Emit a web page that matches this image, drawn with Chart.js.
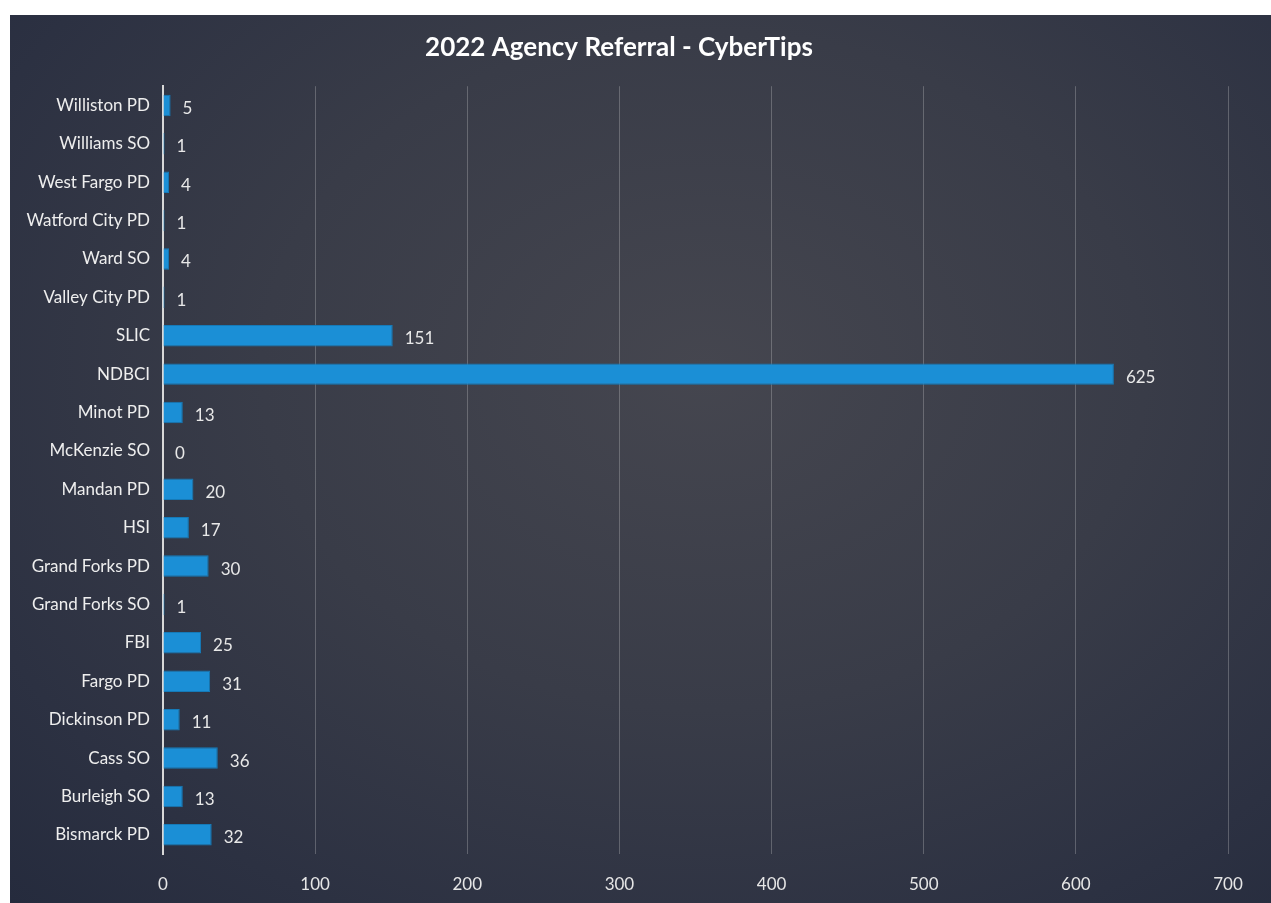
<!DOCTYPE html>
<html>
<head>
<meta charset="utf-8">
<script src="https://cdn.jsdelivr.net/npm/chart.js@4"></script>
<style>
  body { margin:0; background:#fff; }
  #wrap {
    position:absolute; left:10px; top:15px; width:1261px; height:888px;
    background: radial-gradient(ellipse at 55% 40%, #45464f 0%, #393c48 45%, #2c3142 80%, #252b3d 100%);
  }
</style>
</head>
<body>
<div id="wrap"><canvas id="bar-chart"></canvas></div>
<script>
var agencies = ['Williston PD','Williams SO','West Fargo PD','Watford City PD','Ward SO','Valley City PD',
  'SLIC','NDBCI','Minot PD','McKenzie SO','Mandan PD','HSI','Grand Forks PD','Grand Forks SO',
  'FBI','Fargo PD','Dickinson PD','Cass SO','Burleigh SO','Bismarck PD'];
var tips = [5,1,4,1,4,1,151,625,13,0,20,17,30,1,25,31,11,36,13,32];
var xTicks = [0,100,200,300,400,500,600,700];

// draws the value next to each bar
var valueLabels = {
  id: 'valueLabels',
  afterDatasetsDraw: function(chart){
    var ctx = chart.ctx;
    var meta = chart.getDatasetMeta(0);
    ctx.save();
    ctx.font = '17px Lato';
    ctx.fillStyle = '#e8e8e8';
    ctx.textAlign = 'left';
    ctx.textBaseline = 'middle';
    meta.data.forEach(function(bar, i){
      ctx.fillText(String(tips[i]), bar.x + 12, bar.y + 3);
    });
    ctx.restore();
  }
};

new Chart(document.getElementById('bar-chart'), {
  type: 'bar',
  data: {
    labels: agencies,
    datasets: [{
      data: tips,
      backgroundColor: '#1b8fd6',
      borderColor: '#157ab8',
      borderWidth: 1,
      barPercentage: 0.56,
      categoryPercentage: 1
    }]
  },
  options: {
    indexAxis: 'y',
    responsive: true,
    maintainAspectRatio: false,
    animation: false,
    layout: { padding: { left: 0, right: 43, top: 15, bottom: 0 } },
    plugins: {
      legend: { display: false },
      tooltip: { enabled: false },
      title: {
        display: true,
        text: '2022 Agency Referral - CyberTips',
        color: '#ffffff',
        font: { family: 'Lato', size: 26, weight: 'bold' },
        padding: { top: 2, bottom: 23 }
      }
    },
    scales: {
      x: {
        min: 0, max: 700,
        afterFit: function(s){ s.height = 49; },
        afterBuildTicks: function(s){ s.ticks = xTicks.map(function(v){ return {value:v}; }); },
        grid: { color: 'rgba(220,220,220,0.28)', lineWidth: 1, drawTicks: false },
        border: { display: false },
        ticks: { color: '#e6e6e6', font: { family: 'Lato', size: 17 }, padding: 20 }
      },
      y: {
        afterFit: function(s){ s.width = 153; },
        grid: { display: false, drawTicks: false },
        border: { display: true, color: '#d8d8d8', width: 2 },
        ticks: { color: '#eeeeee', font: { family: 'Lato', size: 17 }, padding: 13 }
      }
    }
  },
  plugins: [valueLabels]
});
</script>
</body>
</html>
